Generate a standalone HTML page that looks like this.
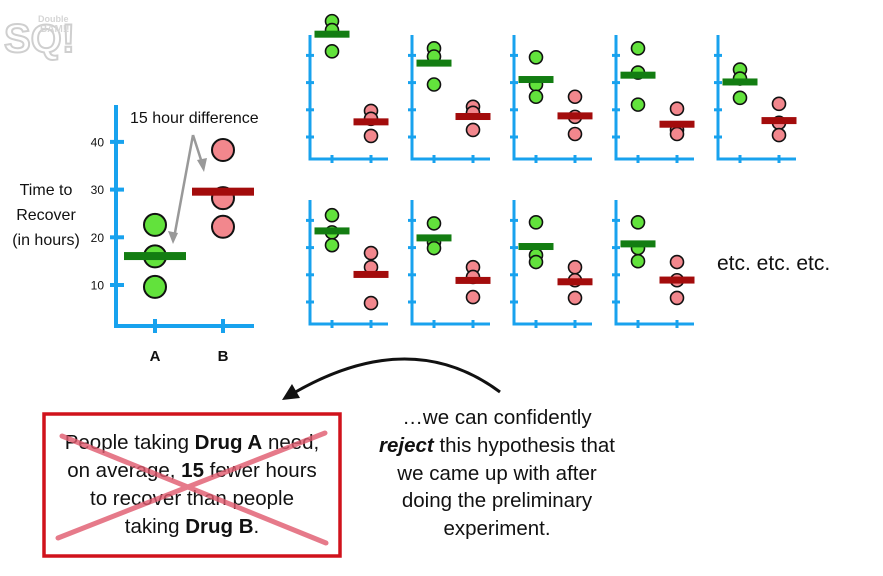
<!DOCTYPE html>
<html><head><meta charset="utf-8"><style>
body{margin:0;background:#fff;width:883px;height:576px;overflow:hidden;font-family:"Liberation Sans",sans-serif;}
svg{position:absolute;left:0;top:0}
</style></head><body>
<svg id="s" width="883" height="576" viewBox="0 0 883 576">
<g opacity="0.35">
<text x="4" y="52" font-size="40" font-weight="bold" fill="none" stroke="#777" stroke-width="2" font-family="Liberation Sans">SQ!</text>
<text x="38" y="22" font-size="9" fill="#888" font-weight="bold">Double</text>
<text x="40" y="32" font-size="10" fill="#888" font-weight="bold">BAM!!</text>
</g>
<g id="main"></g>
<g id="panels"></g>
<text x="717" y="270" font-size="21" fill="#111">etc. etc. etc.</text>
<g>
<rect x="44" y="414" width="296" height="142" fill="#fff" stroke="#d0121c" stroke-width="3.5"/>
<g font-size="20.5" fill="#111" text-anchor="middle">
<text x="192" y="449">People taking <tspan font-weight="bold">Drug A</tspan> need,</text>
<text x="192" y="477">on average, <tspan font-weight="bold">15</tspan> fewer hours</text>
<text x="192" y="505">to recover than people</text>
<text x="192" y="533">taking <tspan font-weight="bold">Drug B</tspan>.</text>
</g>
<path d="M58 538 L325 433 M62 436 L326 543" stroke="#e05a6e" stroke-width="5" opacity="0.8" stroke-linecap="round"/>
</g>
<g font-size="20.5" fill="#111" text-anchor="middle">
<text x="497" y="424">…we can confidently</text>
<text x="497" y="452"><tspan font-weight="bold" font-style="italic">reject</tspan> this hypothesis that</text>
<text x="497" y="480">we came up with after</text>
<text x="497" y="507">doing the preliminary</text>
<text x="497" y="535">experiment.</text>
</g>
<path d="M500 392 Q410 325 292 394" fill="none" stroke="#111" stroke-width="3"/>
<path d="M282 400 L292 384 L300 398 Z" fill="#111"/>
</svg>
<script>
const NS="http://www.w3.org/2000/svg";
const mainCats=["A","B"];
const mainTicks=[10,20,30,40];
const mainA=[22.6,16,9.6];
const mainB=[38.3,28.2,22.2];
const panelTopA=[[52.6,49.3,41.5],[42.6,39.6,29.3],[39.3,29.3,24.8],[42.6,33.7,21.9],[34.8,31.5,24.4]];
const panelTopB=[[19.6,16.7,10.4],[21.1,18.9,12.6],[24.8,17.4,11.1],[20.4,12.6,11.1],[22.2,15.2,10.7]];
const panelBotA=[[41.9,35.6,30.9],[38.9,32,29.8],[39.3,27.2,24.7],[39.3,29.8,25]];
const panelBotB=[[28,22.8,9.6],[22.8,19.2,11.8],[22.8,18,11.5],[24.7,18,11.5]];
const BLUE="#18a2ee",GF="#62e23c",GB="#137d12",RF="#f2878d",RB="#a30c0c";
function mk(p,t,a){const e=document.createElementNS(NS,t);for(const k in a)e.setAttribute(k,a[k]);p.appendChild(e);return e;}
const mean=a=>a.reduce((s,v)=>s+v,0)/a.length;
const M=document.getElementById('main');
const my=v=>285-(v-10)*4.77;
const mx=i=>155+i*68;
let ax=mk(M,'path',{d:'M116 105 V326 H254',fill:'none',stroke:BLUE,'stroke-width':4});


mainTicks.forEach(t=>{
 const tk=mk(M,'line',{x1:110,x2:124,y1:my(t),y2:my(t),stroke:BLUE,'stroke-width':4});
 
 
 const tl=mk(M,'text',{x:104,y:my(t)+4.5,'font-size':12,'text-anchor':'end',fill:'#111'});
 tl.textContent=t;
 
 
});
mainCats.forEach((c,i)=>{
 const tk=mk(M,'line',{x1:mx(i),x2:mx(i),y1:319,y2:333,stroke:BLUE,'stroke-width':4});
 
 
 const tl=mk(M,'text',{x:mx(i),y:361,'font-size':15,'font-weight':'bold','text-anchor':'middle',fill:'#111'});
 tl.textContent=c;
 
 
});
[["Time to",195],["Recover",220],["(in hours)",245]].forEach(([t,y])=>{
 const e=mk(M,'text',{x:46,y:y,'font-size':16,'text-anchor':'middle',fill:'#111'});
 e.textContent=t;
 
 
});
function group(P,vals,x,yf,r,fill,bar,bw,bh,name){
 vals.forEach(v=>{
  const c=mk(P,'circle',{cx:x,cy:yf(v),r:r,fill:fill,stroke:'#111','stroke-width':r>8?2:1.6});
  
  
 });
 const m=mean(vals);
 const b=mk(P,'rect',{x:x-bw/2,y:yf(m)-bh/2,width:bw,height:bh,fill:bar});
 
 
}
group(M,mainA,mx(0),my,11,GF,GB,62,8,'drug-a');
group(M,mainB,mx(1),my,11,RF,RB,62,8,'drug-b');
const an=mk(M,'text',{x:130,y:123,'font-size':16,fill:'#111'});
an.textContent='15 hour difference';


const ar=mk(M,'path',{d:'M193 135 L203 166 M193 135 L174 238',stroke:'#999','stroke-width':2.5,fill:'none'});


const ah=mk(M,'path',{d:'M204 172 L197 160 L207 158 Z M173 244 L168 231 L178 233 Z',fill:'#999'});


const PG=document.getElementById('panels');
function panel(x0,base,A,B,idx){
 const g=mk(PG,'g',{});
 
 
 const yf=v=>base-(v-10)*2.72;
 mk(g,'path',{d:`M${x0} ${base-102} V${base+22} H${x0+78}`,fill:'none',stroke:BLUE,'stroke-width':3});
 [10,20,30,40].forEach(t=>mk(g,'line',{x1:x0-4,x2:x0+4,y1:yf(t),y2:yf(t),stroke:BLUE,'stroke-width':3}));
 [22,61].forEach(d=>mk(g,'line',{x1:x0+d,x2:x0+d,y1:base+18,y2:base+26,stroke:BLUE,'stroke-width':3}));
 group(g,A,x0+22,yf,6.5,GF,GB,35,7,'panel-a');
 group(g,B,x0+61,yf,6.5,RF,RB,35,7,'panel-b');
}
panelTopA.forEach((a,i)=>panel(310+i*102,137,a,panelTopB[i],'top-'+(i+1)));
panelBotA.forEach((a,i)=>panel(310+i*102,302,a,panelBotB[i],'bottom-'+(i+1)));
</script>
</body></html>
